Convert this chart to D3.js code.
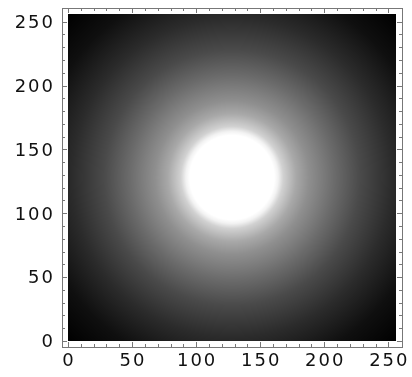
<!DOCTYPE html>
<html>
<head>
<meta charset="utf-8">
<script src="https://cdn.jsdelivr.net/npm/d3@7"></script>
<style>
  html, body { margin: 0; padding: 0; background: #fff; }
  #wrap { position: relative; width: 412px; height: 377px; }
  canvas, svg { position: absolute; left: 0; top: 0; }
  text { font-family: "DejaVu Sans", sans-serif; font-size: 18px; letter-spacing: 2px; fill: #111; }
</style>
</head>
<body>
<div id="wrap"><canvas id="density" width="412" height="377"></canvas><svg id="chart" width="412" height="377"></svg></div>
<script>
const radii = [0, 33, 36, 40, 50, 60, 80, 100, 125, 153, 181];
const grays = [1, 1, 0.95, 0.82, 0.66, 0.56, 0.42, 0.29, 0.17, 0.06, 0];
const center = [128, 128];
const domainMax = 256;
const majorTicks = [0, 50, 100, 150, 200, 250];
const minorTicks = d3.range(0, 257, 10);

const x = d3.scaleLinear().domain([0, domainMax]).range([68, 396]);
const y = d3.scaleLinear().domain([0, domainMax]).range([341, 14]);
const level = d3.scaleLinear().domain(radii).range(grays).clamp(true);

// density image, one pixel at a time through the scales
const ctx = document.getElementById("density").getContext("2d");
const x0 = Math.round(x(0)), x1 = Math.round(x(domainMax));
const y0 = Math.round(y(domainMax)), y1 = Math.round(y(0));
const img = ctx.createImageData(x1 - x0, y1 - y0);
for (let py = y0; py < y1; py++) {
  for (let px = x0; px < x1; px++) {
    const dx = x.invert(px + 0.5) - center[0];
    const dy = y.invert(py + 0.5) - center[1];
    const g = Math.round(255 * level(Math.hypot(dx, dy)));
    const k = ((py - y0) * (x1 - x0) + (px - x0)) * 4;
    img.data[k] = g; img.data[k + 1] = g; img.data[k + 2] = g; img.data[k + 3] = 255;
  }
}
ctx.putImageData(img, x0, y0);

const svg = d3.select("#chart");
const pad = 6;
const frame = { left: x(0) - pad, right: x(domainMax) + pad, top: y(domainMax) - pad, bottom: y(0) + pad };

svg.append("rect")
  .attr("x", frame.left + 0.5).attr("y", frame.top + 0.5)
  .attr("width", frame.right - frame.left).attr("height", frame.bottom - frame.top)
  .attr("fill", "none").attr("stroke", "#777").attr("stroke-width", 1);

const ticks = svg.append("g").attr("stroke", "#777").attr("stroke-width", 1);
minorTicks.forEach(t => {
  const len = majorTicks.includes(t) ? 5 : 3;
  const px = Math.round(x(t)) + 0.5, py = Math.round(y(t)) + 0.5;
  ticks.append("line").attr("x1", px).attr("x2", px).attr("y1", frame.bottom).attr("y2", frame.bottom - len);
  ticks.append("line").attr("x1", px).attr("x2", px).attr("y1", frame.top).attr("y2", frame.top + len);
  ticks.append("line").attr("y1", py).attr("y2", py).attr("x1", frame.left).attr("x2", frame.left + len);
  ticks.append("line").attr("y1", py).attr("y2", py).attr("x1", frame.right).attr("x2", frame.right - len);
});

svg.append("g").selectAll("text").data(majorTicks).join("text")
  .attr("x", d => x(d) + 1).attr("y", frame.bottom + 19)
  .attr("text-anchor", "middle").text(d => d);

svg.append("g").selectAll("text").data(majorTicks).join("text")
  .attr("x", frame.left - 7).attr("y", d => y(d)).attr("dy", "0.35em")
  .attr("text-anchor", "end").text(d => d);
</script>
</body>
</html>
